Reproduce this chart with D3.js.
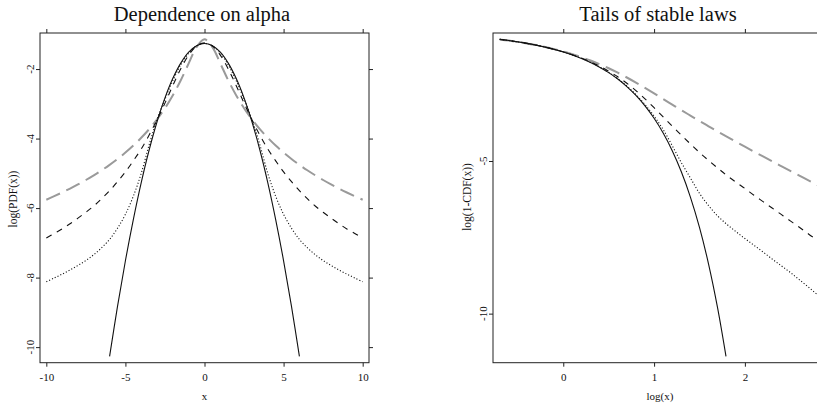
<!DOCTYPE html>
<html>
<head>
<meta charset="utf-8">
<script src="https://cdn.jsdelivr.net/npm/d3@7"></script>
<style>
html,body{margin:0;padding:0;background:#fff;overflow:hidden}
svg{display:block}
text{font-family:"Liberation Serif","Times New Roman",Times,serif;fill:#111}
</style>
</head>
<body>
<svg id="chart" width="817" height="405"></svg>
<script>
// ---------------- DATA: left panel, log density ----------------
const pdfX = [-10,-9.5,-9,-8.5,-8,-7.5,-7,-6.5,-6,-5.5,-5,-4.5,-4,-3.5,-3,-2.5,-2,-1.5,-1,-0.5,
              0,0.5,1,1.5,2,2.5,3,3.5,4,4.5,5,5.5,6,6.5,7,7.5,8,8.5,9,9.5,10];
// alpha = 1 (grey long-dashed)
const pdfAlpha1 = [-5.760,-5.658,-5.551,-5.439,-5.319,-5.192,-5.057,-4.912,-4.755,-4.587,-4.403,-4.201,-3.978,-3.729,-3.447,-3.126,-2.754,-2.323,-1.838,-1.368,
                   -1.145,-1.368,-1.838,-2.323,-2.754,-3.126,-3.447,-3.729,-3.978,-4.201,-4.403,-4.587,-4.755,-4.912,-5.057,-5.192,-5.319,-5.439,-5.551,-5.658,-5.760];
// alpha = 1.5 (black dashed)
const pdfAlpha15 = [-6.86,-6.73,-6.60,-6.45,-6.29,-6.12,-5.94,-5.73,-5.50,-5.24,-4.96,-4.64,-4.30,-3.90,-3.46,-2.98,-2.471,-1.994,-1.599,-1.338,
                    -1.247,-1.338,-1.599,-1.994,-2.471,-2.98,-3.46,-3.90,-4.30,-4.64,-4.96,-5.24,-5.50,-5.73,-5.94,-6.12,-6.29,-6.45,-6.60,-6.73,-6.86];
// alpha = 1.8 (black dotted)
const pdfAlpha18 = [-8.12,-8.01,-7.90,-7.78,-7.65,-7.51,-7.34,-7.14,-6.90,-6.58,-6.18,-5.66,-5.00,-4.18,-3.45,-2.868,-2.332,-1.879,-1.540,-1.332,
                    -1.262,-1.332,-1.540,-1.879,-2.332,-2.868,-3.45,-4.18,-5.00,-5.66,-6.18,-6.58,-6.90,-7.14,-7.34,-7.51,-7.65,-7.78,-7.90,-8.01,-8.12];
// alpha = 2 (black solid), drawn on |x| <= 6
const normX = [-6,-5.5,-5,-4.5,-4,-3.5,-3,-2.5,-2,-1.5,-1,-0.5,0,0.5,1,1.5,2,2.5,3,3.5,4,4.5,5,5.5,6];
const pdfAlpha2 = [-10.266,-8.829,-7.516,-6.329,-5.266,-4.329,-3.516,-2.829,-2.266,-1.829,-1.516,-1.329,-1.266,
                   -1.329,-1.516,-1.829,-2.266,-2.829,-3.516,-4.329,-5.266,-6.329,-7.516,-8.829,-10.266];

// ---------------- DATA: right panel, log tail ----------------
const tailLogX = [-0.7,-0.6,-0.5,-0.4,-0.3,-0.2,-0.1,0,0.1,0.2,0.3,0.4,0.5,0.6,0.7,0.8,0.9,1.0,1.1,1.2,1.3,1.4,1.5,1.6,1.7,1.8,1.9,
                  2.0,2.1,2.2,2.3,2.4,2.5,2.6,2.7,2.8,2.9,3.0];
// alpha = 1.5 (grey long-dashed)
const tailAlpha15 = [-1.018,-1.055,-1.099,-1.148,-1.202,-1.264,-1.334,-1.412,-1.500,-1.599,-1.708,-1.829,-1.962,-2.108,-2.264,-2.430,-2.604,-2.785,-2.970,-3.152,-3.334,-3.512,-3.689,-3.862,-4.034,-4.202,-4.368,
                     -4.531,-4.692,-4.852,-5.011,-5.168,-5.324,-5.479,-5.634,-5.788,-5.941,-6.094];
// alpha = 1.8 (black dashed)
const tailAlpha18 = [-1.015,-1.054,-1.098,-1.147,-1.203,-1.267,-1.340,-1.422,-1.519,-1.629,-1.751,-1.893,-2.056,-2.242,-2.453,-2.693,-2.963,-3.254,-3.557,-3.86,-4.15,-4.44,-4.72,-4.98,-5.23,-5.47,-5.69,
                     -5.90,-6.12,-6.33,-6.54,-6.75,-6.96,-7.17,-7.39,-7.60,-7.81,-8.02];
// alpha = 1.95 (black dotted)
const tailAlpha195 = [-1.014,-1.053,-1.097,-1.146,-1.202,-1.267,-1.341,-1.427,-1.524,-1.637,-1.768,-1.920,-2.097,-2.303,-2.543,-2.825,-3.15,-3.53,-3.97,-4.50,-5.05,-5.555,-6.06,-6.46,-6.80,-7.07,-7.31,
                      -7.54,-7.76,-7.98,-8.21,-8.43,-8.65,-8.89,-9.13,-9.38,-9.62,-9.86];
// alpha = 2 (black solid), up to x = 6
const normLogX = [-0.7,-0.6,-0.5,-0.4,-0.3,-0.2,-0.1,0,0.1,0.2,0.3,0.4,0.5,0.6,0.7,0.8,0.9,1.0,1.1,1.2,1.3,1.4,1.5,1.6,1.7,1.792];
const tailAlpha2 = [-1.014,-1.053,-1.097,-1.146,-1.203,-1.268,-1.342,-1.428,-1.526,-1.640,-1.772,-1.926,-2.105,-2.315,-2.561,-2.851,-3.194,-3.601,-4.085,-4.663,-5.353,-6.181,-7.176,-8.375,-9.821,-11.40];

// ---------------- tick labels ----------------
const leftXTicks = [-10,-5,0,5,10];
const leftYTicks = [-10,-8,-6,-4,-2];
const rightXTicks = [0,1,2];
const rightYTicks = [-10,-5];

// ---------------- styles ----------------
const styleSolid  = {stroke:"#111", width:1.1, dash:null};
const styleDotted = {stroke:"#111", width:1.1, dash:"1.1,2"};
const styleDashed = {stroke:"#111", width:1.1, dash:"6,6"};
const styleLong   = {stroke:"#9a9a9a", width:2, dash:"15,7"};

const svg = d3.select("#chart");

function padded(vals, f) {
  const e = d3.extent(vals);
  const p = (e[1] - e[0]) * f;
  return [e[0] - p, e[1] + p];
}

let clipId = 0;
function panel(cfg) {
  const x = d3.scaleLinear().domain(padded(cfg.xAll, 0.02)).range([cfg.left, cfg.right]);
  const y = d3.scaleLinear().domain(padded(cfg.yAll, 0.02)).range([cfg.bottom, cfg.top]);
  const g = svg.append("g");
  const id = "clip" + (clipId++);
  g.append("clipPath").attr("id", id).append("rect")
    .attr("x", cfg.left).attr("y", cfg.top)
    .attr("width", cfg.right - cfg.left).attr("height", cfg.bottom - cfg.top);

  const fmt = d => String(d);
  const axisStyle = sel => {
    sel.select(".domain").remove();
    sel.selectAll(".tick line").attr("stroke", "#222").attr("stroke-width", 1);
  };
  // bottom axis with labels
  g.append("g").attr("transform", `translate(0,${cfg.bottom})`)
    .call(d3.axisBottom(x).tickValues(cfg.xTicks).tickSize(4).tickPadding(7).tickFormat(fmt))
    .call(axisStyle)
    .call(s => s.selectAll("text").attr("font-size", 11).attr("font-family", "Liberation Serif, serif").attr("fill", "#111"));
  // top ticks
  g.append("g").attr("transform", `translate(0,${cfg.top})`)
    .call(d3.axisTop(x).tickValues(cfg.xTicks).tickSize(4).tickFormat(""))
    .call(axisStyle);
  // left ticks
  g.append("g").attr("transform", `translate(${cfg.left},0)`)
    .call(d3.axisLeft(y).tickValues(cfg.yTicks).tickSize(4).tickFormat(""))
    .call(axisStyle);
  // right ticks
  g.append("g").attr("transform", `translate(${cfg.right},0)`)
    .call(d3.axisRight(y).tickValues(cfg.yTicks).tickSize(4).tickFormat(""))
    .call(axisStyle);
  // rotated y tick labels
  g.selectAll(".ylab").data(cfg.yTicks).enter().append("text")
    .attr("class", "ylab")
    .attr("font-size", 11)
    .attr("text-anchor", "middle")
    .attr("transform", d => `translate(${cfg.yLabX},${y(d)}) rotate(-90)`)
    .text(fmt);

  // curves
  const cg = g.append("g").attr("clip-path", `url(#${id})`);
  cfg.series.forEach(s => {
    const pts = s.x.map((v, i) => [v, s.y[i]]);
    cg.append("path")
      .attr("d", d3.line().x(d => x(d[0])).y(d => y(d[1])).curve(d3.curveCatmullRom.alpha(0.5))(pts))
      .attr("fill", "none")
      .attr("stroke", s.style.stroke)
      .attr("stroke-width", s.style.width)
      .attr("stroke-dasharray", s.style.dash)
      .attr("stroke-linejoin", "round");
  });

  // frame
  g.append("rect")
    .attr("x", cfg.left).attr("y", cfg.top)
    .attr("width", cfg.right - cfg.left).attr("height", cfg.bottom - cfg.top)
    .attr("fill", "none").attr("stroke", "#222").attr("stroke-width", 1);

  // titles
  g.append("text").attr("x", cfg.titleX).attr("y", 21).attr("text-anchor", "middle")
    .attr("font-size", 20.5).text(cfg.title);
  g.append("text").attr("x", (cfg.xTitleX)).attr("y", 400).attr("text-anchor", "middle")
    .attr("font-size", 11).text(cfg.xTitle);
  g.append("text").attr("text-anchor", "middle").attr("font-size", 11.5)
    .attr("transform", `translate(${cfg.yTitleX},${cfg.yTitleY}) rotate(-90)`)
    .text(cfg.yTitle);
}

panel({
  left: 40, right: 369, top: 33, bottom: 362.7,
  xAll: pdfX.concat(normX),
  yAll: pdfAlpha1.concat(pdfAlpha15, pdfAlpha18, pdfAlpha2),
  xTicks: leftXTicks, yTicks: leftYTicks,
  yLabX: 33.5,
  title: "Dependence on alpha", titleX: 202,
  xTitle: "x", xTitleX: 204.5,
  yTitle: "log(PDF(x))", yTitleX: 17, yTitleY: 199,
  series: [
    {x: pdfX, y: pdfAlpha1, style: styleLong},
    {x: pdfX, y: pdfAlpha15, style: styleDashed},
    {x: pdfX, y: pdfAlpha18, style: styleDotted},
    {x: normX, y: pdfAlpha2, style: styleSolid}
  ]
});

panel({
  left: 493, right: 842.4, top: 33, bottom: 362.7,
  xAll: tailLogX.concat(normLogX),
  yAll: tailAlpha15.concat(tailAlpha18, tailAlpha195, tailAlpha2),
  xTicks: rightXTicks, yTicks: rightYTicks,
  yLabX: 487,
  title: "Tails of stable laws", titleX: 658,
  xTitle: "log(x)", xTitleX: 660,
  yTitle: "log(1-CDF(x))", yTitleX: 471, yTitleY: 197,
  series: [
    {x: tailLogX, y: tailAlpha15, style: styleLong},
    {x: tailLogX, y: tailAlpha18, style: styleDashed},
    {x: tailLogX, y: tailAlpha195, style: styleDotted},
    {x: normLogX, y: tailAlpha2, style: styleSolid}
  ]
});
</script>
</body>
</html>
